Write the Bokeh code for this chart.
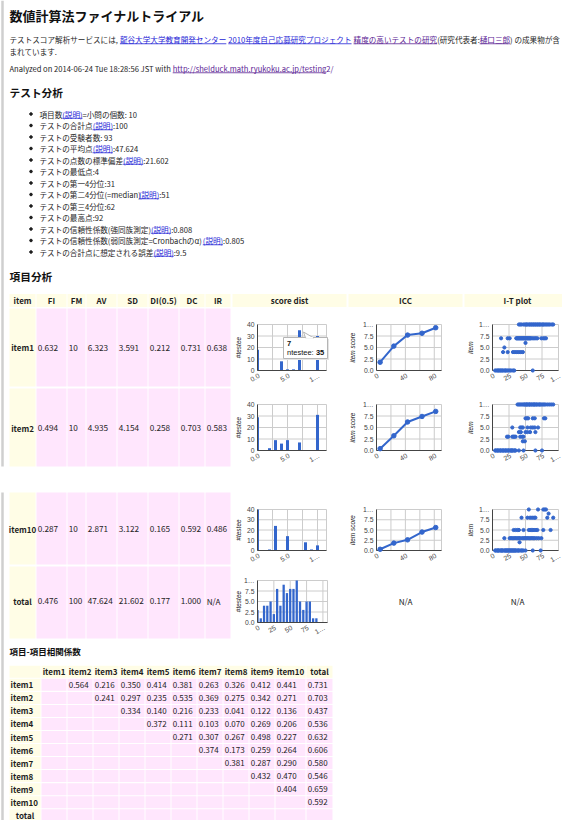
import math
from bokeh.plotting import figure
from bokeh.models import Range1d
from bokeh.core.properties import value
from bokeh.embed import file_html
from bokeh.resources import INLINE

# ------------------------------------------------------------------ data
page_title = "数値計算法ファイナルトライアル"
intro_parts = [("テストスコア解析サービスには, ", "text"), ("龍谷大学大学教育開発センター", "link"), (" ", "text"),
               ("2010年度自己応募研究プロジェクト", "link"), (" ", "text"), ("精度の高いテストの研究", "visited"),
               ("(研究代表者:", "text"), ("樋口三郎", "visited"), (") の成果物が含", "text")]
intro_tail = "まれています."
analyzed_parts = [("Analyzed on 2014-06-24 Tue 18:28:56 JST with ", "text"),
                  ("http://shelduck.math.ryukoku.ac.jp/testing2/", "visited")]
summary_heading = "テスト分析"
summary_items = [
    [("項目数", 0), ("(説明)", 1), ("=小問の個数: 10", 0)],
    [("テストの合計点", 0), ("(説明)", 1), (":100", 0)],
    [("テストの受験者数: 93", 0)],
    [("テストの平均点", 0), ("(説明)", 1), (":47.624", 0)],
    [("テストの点数の標準偏差", 0), ("(説明)", 1), (":21.602", 0)],
    [("テストの最低点:4", 0)],
    [("テストの第一4分位:31", 0)],
    [("テストの第二4分位(=median)", 0), ("(説明)", 1), (":51", 0)],
    [("テストの第三4分位:62", 0)],
    [("テストの最高点:92", 0)],
    [("テストの信頼性係数(強同族測定)", 0), ("(説明)", 1), (":0.808", 0)],
    [("テストの信頼性係数(弱同族測定=Cronbachのα)", 0), ("(説明)", 1), (":0.805", 0)],
    [("テストの合計点に想定される誤差", 0), ("(説明)", 1), (":9.5", 0)],
]
item_heading = "項目分析"
item_columns = ["item", "FI", "FM", "AV", "SD", "DI(0.5)", "DC", "IR"]
chart_columns = ["score dist", "ICC", "I-T plot"]
item_names = ["item1", "item2", "item10", "total"]
item_FI = ["0.632", "0.494", "0.287", "0.476"]
item_FM = ["10", "10", "10", "100"]
item_AV = ["6.323", "4.935", "2.871", "47.624"]
item_SD = ["3.591", "4.154", "3.122", "21.602"]
item_DI = ["0.212", "0.258", "0.165", "0.177"]
item_DC = ["0.731", "0.703", "0.592", "1.000"]
item_IR = ["0.638", "0.583", "0.486", "N/A"]

dist_item1_score = [0, 4, 5, 6, 7, 10]
dist_item1_count = [18, 8, 1, 1, 35, 30]
dist_item2_score = [0, 2, 3, 4, 5, 7, 10]
dist_item2_count = [29, 2, 9, 6, 9, 7, 31]
dist_item10_score = [0, 2, 3, 5, 8, 9, 10]
dist_item10_count = [40, 1, 24, 14, 8, 1, 5]
dist_total_score = [0, 5, 10, 15, 20, 25, 30, 35, 40, 45, 50, 55, 60, 65, 70, 75, 80, 85, 90]
dist_total_count = [3, 1, 4, 4, 5, 2, 8, 4, 9, 7, 8, 8, 10, 5, 3, 5, 5, 1, 1]

icc_group = [5, 24, 43, 63, 82]
icc_item1 = [1.8, 5.3, 7.7, 8.1, 9.3]
icc_item2 = [0.4, 3.2, 6.2, 7.4, 8.5]
icc_item10 = [0.3, 1.8, 2.6, 4.5, 5.6]

it_item1_levels = [0, 4, 5, 6, 7, 10]
it_item1_totals = [
    [4, 6, 8, 9, 11, 12, 14, 15, 17, 19, 20, 22, 24, 26, 28, 31, 33, 61],
    [16, 23, 31, 34, 37, 40, 43, 46],
    [18],
    [50],
    [13, 23, 26, 36, 37, 38, 39, 40, 41, 42, 43, 44, 45, 46, 47, 48, 49, 50, 51, 52, 53, 54, 55, 56, 57, 58,
     60, 62, 64, 66, 68, 74, 77, 79, 81],
    [40, 42, 44, 47, 49, 51, 52, 54, 56, 57, 59, 60, 62, 63, 65, 66, 68, 69, 71, 72, 74, 76, 77, 79, 81, 83,
     85, 87, 90, 92],
]
it_item2_levels = [0, 2, 3, 4, 5, 7, 10]
it_item2_totals = [
    [4, 5, 7, 8, 9, 11, 12, 13, 15, 16, 17, 19, 20, 21, 23, 24, 25, 27, 28, 29, 30, 31, 33, 34, 35, 40, 47, 65, 75],
    [46, 49],
    [22, 24, 30, 32, 33, 35, 42, 45, 47],
    [40, 43, 50, 53, 57, 65],
    [30, 42, 44, 46, 53, 58, 61, 64, 69],
    [50, 52, 54, 61, 64, 78, 80],
    [38, 40, 42, 44, 46, 48, 49, 51, 52, 53, 55, 56, 57, 59, 60, 62, 63, 64, 66, 67, 69, 71, 72, 74, 76, 78,
     80, 83, 86, 89, 92],
]
it_item10_levels = [0, 2, 3, 5, 8, 9, 10]
it_item10_totals = [
    [4, 5, 7, 8, 9, 10, 12, 13, 14, 15, 16, 18, 19, 20, 21, 22, 23, 24, 25, 26, 27, 28, 29, 30, 31, 32, 33,
     34, 35, 36, 38, 39, 40, 42, 44, 45, 47, 50, 61, 73],
    [41],
    [18, 26, 28, 30, 32, 34, 36, 38, 40, 42, 45, 47, 49, 50, 52, 54, 56, 58, 60, 62, 64, 67, 70, 74],
    [32, 35, 38, 40, 47, 55, 57, 59, 61, 63, 66, 68, 77, 88],
    [44, 53, 57, 60, 63, 65, 83, 92],
    [85],
    [55, 69, 77, 79, 81],
]

tooltip_title = "7"
tooltip_label = "ntestee: "
tooltip_value = "35"

corr_heading = "項目-項目相関係数"
corr_labels = ["item1", "item2", "item3", "item4", "item5", "item6", "item7", "item8", "item9", "item10", "total"]
corr_rows = [
    ["0.564", "0.216", "0.350", "0.414", "0.381", "0.263", "0.326", "0.412", "0.441", "0.731"],
    ["0.241", "0.297", "0.235", "0.535", "0.369", "0.275", "0.342", "0.271", "0.703"],
    ["0.334", "0.140", "0.216", "0.233", "0.041", "0.122", "0.136", "0.437"],
    ["0.372", "0.111", "0.103", "0.070", "0.269", "0.206", "0.536"],
    ["0.271", "0.307", "0.267", "0.498", "0.227", "0.632"],
    ["0.374", "0.173", "0.259", "0.264", "0.606"],
    ["0.381", "0.287", "0.290", "0.580"],
    ["0.432", "0.470", "0.546"],
    ["0.404", "0.659"],
    ["0.592"],
    [],
]

# ------------------------------------------------------------------ style
FONT = "Noto Sans CJK JP"
CFONT = "Liberation Sans"
INK = "#1e1e1e"
LINK = "#2424d6"
VISITED = "#5b2394"
BLUE = "#3366cc"
GRID = "#cccccc"
BASE = "#444444"
AXT = "#444444"
CREAM = "#fffde6"
PINK = "#ffe6fd"
KIND = {"text": INK, "link": LINK, "visited": VISITED}

W = {' ': .26, '.': .27, ',': .27, ':': .27, '(': .33, ')': .33, '-': .35, '=': .55, '/': .38, '…': 1.0, 'α': 1.0}
LOW = dict(a=.53, b=.58, c=.48, d=.58, e=.53, f=.32, g=.54, h=.57, i=.25, j=.26, k=.52, l=.26, m=.86, n=.57,
           o=.56, p=.58, q=.58, r=.37, s=.44, t=.36, u=.57, v=.48, w=.74, x=.47, y=.48, z=.45)


def tw(s, fs):
    w = 0.0
    for ch in s:
        if ch in W:
            w += W[ch]
        elif ch.isdigit():
            w += .555
        elif ch in LOW:
            w += LOW[ch]
        elif 'A' <= ch <= 'Z':
            w += .62
        elif ord(ch) < 0x2000:
            w += .55
        else:
            w += 1.0
    return w * fs


p = figure(width=562, height=820, x_range=Range1d(8, 570), y_range=Range1d(828, 8),
           output_backend="svg", toolbar_location=None, min_border=0,
           x_axis_location=None, y_axis_location=None)
p.grid.visible = False
p.outline_line_color = None
p.background_fill_color = "white"
p.border_fill_color = "white"

texts = []
ul = []


def T(x, y, s, size, color=INK, style="normal", align="left", font=FONT):
    texts.append((x, y, s, size, color, style, align, font))


def run(parts, x, y, fs):
    for s, kind in parts:
        w = tw(s, fs)
        T(x, y, s, fs, KIND[kind])
        if kind != "text":
            ul.append((x, x + w, y + 0.56 * fs, KIND[kind]))
        x += w


# page border
p.segment(x0=[10, 10], y0=[8, 500], x1=[10, 10], y1=[474, 828], line_color="#cfcfcf", line_width=2.5)

# header texts
T(17, 23, page_title, 13, "#111", "bold")
run(intro_parts, 17, 47, 7.6)
T(17, 59, intro_tail, 7.6)
run(analyzed_parts, 17, 76, 7.6)
T(17, 100, summary_heading, 10.7, "#111", "bold")
bul_y = []
for k, parts in enumerate(summary_items):
    y = 121.5 + 11.5 * k
    bul_y.append(y)
    run([(s, "link" if lk else "text") for s, lk in parts], 47, y, 7.6)
p.scatter(x=[38.5] * len(bul_y), y=bul_y, size=2.6, color=INK, marker="circle")
T(17, 284, item_heading, 10.7, "#111", "bold")

# ------------------------------------------------------------------ item table cells
cl, cr, ct, cb, cc = [], [], [], [], []


def cell(l, r, t, b, c):
    cl.append(l); cr.append(r); ct.append(t); cb.append(b); cc.append(c)


tcols = [(17, 43), (44, 74), (75, 93), (94, 124), (125, 155), (156, 186), (187, 212), (213, 238)]
ccols = [(240, 354), (356, 470), (472, 578)]
hdr = (301.5, 314.5)
rows = [(316, 394), (396, 474), (500, 572), (574, 646)]
for (l, r) in tcols + ccols:
    cell(l, r, hdr[0], hdr[1], CREAM)
for (t, b) in rows:
    cell(tcols[0][0], tcols[0][1], t, b, CREAM)
    for (l, r) in tcols[1:]:
        cell(l, r, t, b, PINK)

# correlation table cells
corr_cols = [(49, 74), (75, 100), (101, 126), (127, 152), (153, 178), (179, 204), (205, 230), (231, 256),
             (257, 282), (283, 313), (314, 340)]
ry = [679.3 + 13.04 * k for k in range(12)]
cell(17, 48, ry[0] - 6, ry[0] + 6, CREAM)
for (l, r) in corr_cols:
    cell(l, r, ry[0] - 6, ry[0] + 6, CREAM)
for k in range(1, 12):
    cell(17, 48, ry[k] - 6, ry[k] + 6, CREAM)
    for (l, r) in corr_cols:
        cell(l, r, ry[k] - 6, ry[k] + 6, PINK)
p.quad(left=cl, right=cr, top=ct, bottom=cb, fill_color=cc, line_color=None)

# item table texts
for (l, r), h in zip(tcols + ccols, item_columns + chart_columns):
    T((l + r) / 2, 308, h, 8, INK, "bold", "center")
vals = [item_FI, item_FM, item_AV, item_SD, item_DI, item_DC, item_IR]
row_text_y = [355, 435.5, 536.5, 608.5]
for i, name in enumerate(item_names):
    y = row_text_y[i]
    T(30, y, name, 8, INK, "bold", "center")
    for j, col in enumerate(vals):
        T(tcols[j + 1][0] + 1.2, y, col[i], 8.2)
T((ccols[1][0] + ccols[1][1]) / 2, row_text_y[3], "N/A", 8.2, INK, "normal", "center")
T((ccols[2][0] + ccols[2][1]) / 2, row_text_y[3], "N/A", 8.2, INK, "normal", "center")

# correlation texts
T(17, 658, corr_heading, 8.5, "#111", "bold")
for (l, r), h in zip(corr_cols, corr_labels):
    T((l + r) / 2, ry[0], h, 8, INK, "bold", "center")
for k, lab in enumerate(corr_labels):
    y = ry[k + 1]
    if lab == "total":
        T(32.5, y, lab, 8, INK, "bold", "center")
    else:
        T(18, y, lab, 8, INK, "bold")
    for j, v in enumerate(corr_rows[k]):
        col = corr_cols[k + 1 + j]
        T(col[0] + 1.2, y, v, 8)

# flush texts
groups = {}
for t in texts:
    groups.setdefault(t[3:], []).append(t)
for (size, color, style, align, font), items in groups.items():
    p.text(x=[t[0] for t in items], y=[t[1] for t in items], text=[t[2] for t in items],
           text_font=value(font), text_font_size=f"{size}px", text_color=color, text_font_style=style,
           text_align=align, text_baseline="middle")
for (x0, x1, y, c) in ul:
    p.segment(x0=[x0], y0=[y], x1=[x1], y1=[y], line_color=c, line_width=0.8)


# ------------------------------------------------------------------ charts
def chart(x0, x1, yb, yt, xr, yr, xgrid, xticks, xlabels, yticks, ylabels, ytitle, title_x):
    sub = p.subplot(x_source=Range1d(xr[0], xr[1]), y_source=Range1d(yr[0], yr[1]),
                    x_target=Range1d(x0, x1), y_target=Range1d(yb, yt))
    sub.segment(x0=xgrid, y0=[yr[0]] * len(xgrid), x1=xgrid, y1=[yr[1]] * len(xgrid), line_color=GRID, line_width=1)
    sub.segment(x0=[xr[0]] * len(yticks), y0=yticks, x1=[xr[1]] * len(yticks), y1=yticks, line_color=GRID, line_width=1)
    sub.segment(x0=[xr[1]], y0=[yr[0]], x1=[xr[1]], y1=[yr[1]], line_color=GRID, line_width=1)
    sub.text(x=[xr[0]] * len(yticks), y=yticks, text=ylabels, x_offset=-3, text_align="right",
             text_baseline="middle", text_font=value(CFONT), text_font_size="6.8px", text_color=AXT)
    sub.text(x=xticks, y=[yr[0]] * len(xticks), text=xlabels, angle=math.pi / 6, x_offset=1.5, y_offset=4.5,
             text_align="right", text_baseline="middle", text_font=value(CFONT), text_font_size="6.8px",
             text_color=AXT)
    p.text(x=[title_x], y=[(yb + yt) / 2], text=[ytitle], angle=math.pi / 2, text_align="center",
           text_baseline="middle", text_font=value(CFONT), text_font_size="6.5px", text_font_style="italic",
           text_color="#222222")
    return sub


def baselines(sub, xr, yr):
    sub.segment(x0=[xr[0], xr[0]], y0=[yr[0], yr[0]], x1=[xr[1], xr[0]], y1=[yr[0], yr[1]],
                line_color=BASE, line_width=1)


def bars(sub, scores, counts, half, xmin):
    sub.quad(left=[max(s - half, xmin) for s in scores], right=[s + half for s in scores],
             bottom=[0] * len(scores), top=counts, fill_color=BLUE, line_color=None)


chart_y = [(378, 332), (458, 412), (558, 517), (630, 588)]
SDX = (265, 334)
ICX = (384, 449)
ITX = (500, 566)
ten_ticks = [0, 2.5, 5, 7.5, 10]
ten_labels = ["0.0", "2.5", "5.0", "7.5", "1…"]

dist_scores = [dist_item1_score, dist_item2_score, dist_item10_score]
dist_counts = [dist_item1_count, dist_item2_count, dist_item10_count]
icc_vals = [icc_item1, icc_item2, icc_item10]
it_levels = [it_item1_levels, it_item2_levels, it_item10_levels]
it_totals = [it_item1_totals, it_item2_totals, it_item10_totals]

for i in range(3):
    yb, yt = chart_y[i]
    # score distribution
    xr, yr = (0, 11.5), (0, 40)
    s = chart(SDX[0], SDX[1], yb, yt, xr, yr, [0, 2.5, 5, 7.5, 10], [0, 5, 10], ["0.0", "5.0", "1…"],
              [0, 10, 20, 30, 40], ["0", "10", "20", "30", "40"], "#testee", 246)
    bars(s, dist_scores[i], dist_counts[i], 0.25, 0)
    baselines(s, xr, yr)
    # ICC
    xr, yr = (0, 90), (0, 10)
    s = chart(ICX[0], ICX[1], yb, yt, xr, yr, [0, 20, 40, 60, 80], [0, 40, 80], ["0", "40", "80"],
              ten_ticks, ten_labels, "item score", 360)
    baselines(s, xr, yr)
    s.line(icc_group, icc_vals[i], line_color=BLUE, line_width=2)
    s.scatter(icc_group, icc_vals[i], size=4.5, color=BLUE, marker="circle")
    # I-T plot
    xr, yr = (0, 100), (0, 10)
    s = chart(ITX[0], ITX[1], yb, yt, xr, yr, [0, 25, 50, 75], [0, 25, 50, 75, 100],
              ["0", "25", "50", "75", "1…"], ten_ticks, ten_labels, "item", 478)
    baselines(s, xr, yr)
    xs, ys = [], []
    for lev, tots in zip(it_levels[i], it_totals[i]):
        xs += tots
        ys += [lev] * len(tots)
    s.scatter(xs, ys, size=3.2, color=BLUE, marker="circle")

# total score distribution
yb, yt = chart_y[3]
xr, yr = (0, 107), (0, 10)
s = chart(SDX[0], 335, yb, yt, xr, yr, [0, 25, 50, 75, 100], [0, 25, 50, 75, 100],
          ["0", "25", "50", "75", "1…"], ten_ticks, ten_labels, "#testee", 246)
bars(s, dist_total_score, dist_total_count, 1.75, 0)
baselines(s, xr, yr)

# tooltip over item1 score distribution
p.quad(left=[292.5], right=[336.5], top=[346.5], bottom=[367.5], fill_color="#e4e4e4", line_color=None)
p.quad(left=[291], right=[335], top=[345], bottom=[366], fill_color="white", line_color="#b5b5b5", line_width=1)
p.patch(x=[313, 321, 311], y=[345.3, 345.3, 339.5], fill_color="white", line_color="#b5b5b5", line_width=1)
p.segment(x0=[313.6], y0=[345.2], x1=[320.4], y1=[345.2], line_color="white", line_width=1.6)
p.text(x=[294.5], y=[351], text=[tooltip_title], text_font=value(CFONT), text_font_size="7.5px",
       text_font_style="bold", text_color="#111", text_baseline="middle")
p.text(x=[294.5], y=[359.5], text=[tooltip_label], text_font=value(CFONT), text_font_size="7.5px",
       text_color="#111", text_baseline="middle")
p.text(x=[294.5 + tw(tooltip_label, 7.5)], y=[359.5], text=[tooltip_value], text_font=value(CFONT),
       text_font_size="7.5px", text_font_style="bold", text_color="#111", text_baseline="middle")

open("out.html", "w").write(file_html(p, INLINE))
